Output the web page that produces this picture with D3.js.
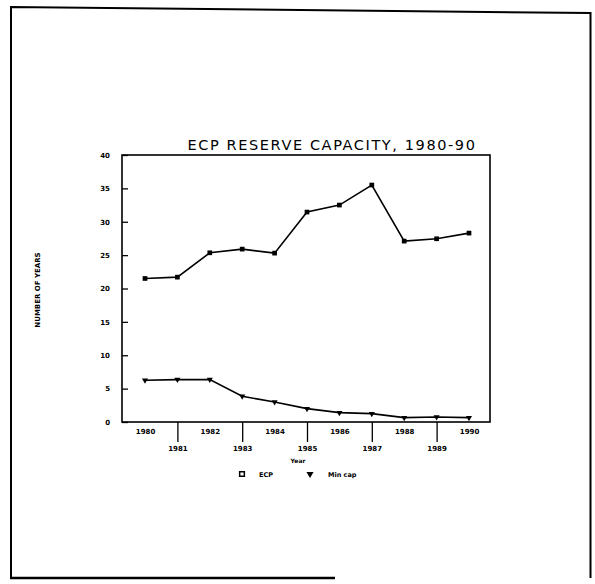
<!DOCTYPE html>
<html><head><meta charset="utf-8">
<script src="https://cdn.jsdelivr.net/npm/d3@7"></script>
<style>body{margin:0;background:#fff}svg{display:block}</style>
</head><body>
<script>
const years = [1980,1981,1982,1983,1984,1985,1986,1987,1988,1989,1990];
const ecpValues = [21.5,21.7,25.35,25.9,25.3,31.45,32.5,35.5,27.1,27.45,28.3];
const minCapValues = [6.25,6.35,6.35,3.85,3.0,2.0,1.4,1.25,0.65,0.75,0.65];
const yTicks = [0,5,10,15,20,25,30,35,40];
const seriesNames = ["ECP","Min cap"];
const titleText = "ECP RESERVE CAPACITY, 1980-90";
const yLabel = "NUMBER OF YEARS";
const xLabel = "Year";

const W=595,H=584;
const svg=d3.select("body").append("svg").attr("width",W).attr("height",H);

// page border (scanned frame)
svg.append("path").attr("d","M11,578 L11,7 L590.5,13 L590.5,578").attr("fill","none").attr("stroke","#000").attr("stroke-width",2);
svg.append("line").attr("x1",10).attr("x2",335).attr("y1",578).attr("y2",578).attr("stroke","#000").attr("stroke-width",2.5);

const L=122,R=490,T=155,B=422;
const x=d3.scaleLinear().domain([1980,1990]).range([145,469]);
const y=d3.scaleLinear().domain([0,40]).range([B,T]);

// title
svg.append("text").attr("x",332).attr("y",150).attr("text-anchor","middle")
  .attr("font-family","DejaVu Sans").attr("font-size",14.5).attr("letter-spacing",1.6)
  .attr("fill","#000").text(titleText);

// frame
svg.append("rect").attr("x",L).attr("y",T).attr("width",R-L).attr("height",B-T)
  .attr("fill","none").attr("stroke","#000").attr("stroke-width",1.6);

// y axis
const yAxis=d3.axisLeft(y).tickValues(yTicks).tickSize(-6).tickPadding(12).tickFormat(d3.format("d"));
const gy=svg.append("g").attr("transform",`translate(${L},0)`).call(yAxis);
gy.select(".domain").remove();
gy.selectAll("line").attr("stroke","#000").attr("stroke-width",1.3);
gy.selectAll("text").attr("font-family","DejaVu Sans").attr("font-weight","bold").attr("font-size",7).attr("fill","#000");

// x axis: odd years with ticks and low labels, even years high labels
const xEven=years.filter(d=>d%2===0), xOdd=years.filter(d=>d%2===1);
const gxo=svg.append("g").attr("transform",`translate(0,${B})`)
  .call(d3.axisBottom(x).tickValues(xOdd).tickSize(20).tickPadding(4).tickFormat(d3.format("d")));
gxo.select(".domain").remove();
gxo.selectAll("line").attr("stroke","#000").attr("stroke-width",1.3);
gxo.selectAll("text").attr("font-family","DejaVu Sans").attr("font-weight","bold").attr("font-size",7).attr("fill","#000");
const gxe=svg.append("g").attr("transform",`translate(0,${B})`)
  .call(d3.axisBottom(x).tickValues(xEven).tickSize(0).tickPadding(7).tickFormat(d3.format("d")));
gxe.select(".domain").remove();
gxe.selectAll("text").attr("font-family","DejaVu Sans").attr("font-weight","bold").attr("font-size",7).attr("fill","#000");

// axis titles
svg.append("text").attr("transform","translate(40,290) rotate(-90)").attr("text-anchor","middle")
  .attr("font-family","DejaVu Sans").attr("font-weight","bold").attr("font-size",7).text(yLabel);
svg.append("text").attr("x",298).attr("y",463).attr("text-anchor","middle")
  .attr("font-family","DejaVu Sans").attr("font-weight","bold").attr("font-size",6).text(xLabel);

// lines
const line=d3.line().x((d,i)=>x(years[i])).y(d=>y(d));
svg.append("path").datum(ecpValues).attr("d",line).attr("fill","none").attr("stroke","#000").attr("stroke-width",1.6);
svg.append("path").datum(minCapValues).attr("d",line).attr("fill","none").attr("stroke","#000").attr("stroke-width",1.6);

// markers
svg.append("g").selectAll("path").data(ecpValues).join("path")
  .attr("d",d3.symbol(d3.symbolSquare,22)())
  .attr("transform",(d,i)=>`translate(${x(years[i])},${y(d)})`).attr("fill","#000");
svg.append("g").selectAll("path").data(minCapValues).join("path")
  .attr("d",d3.symbol(d3.symbolTriangle,16)())
  .attr("transform",(d,i)=>`translate(${x(years[i])},${y(d)}) rotate(180)`).attr("fill","#000");

// legend
const lg=svg.append("g").attr("font-family","DejaVu Sans").attr("font-weight","bold").attr("font-size",6.5);
lg.append("path").attr("d",d3.symbol(d3.symbolSquare,22)()).attr("transform","translate(242,474)").attr("fill","none").attr("stroke","#000").attr("stroke-width",1.5);
lg.append("text").attr("x",259).attr("y",477).text(seriesNames[0]);
lg.append("path").attr("d",d3.symbol(d3.symbolTriangle,22)()).attr("transform","translate(310,474) rotate(180)").attr("fill","#000");
lg.append("text").attr("x",328).attr("y",477).text(seriesNames[1]);
</script>
</body></html>
